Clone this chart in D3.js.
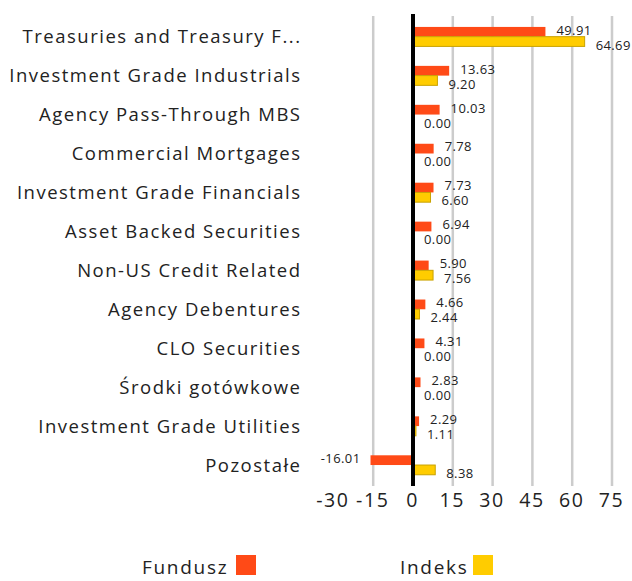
<!DOCTYPE html>
<html><head><meta charset="utf-8">
<script src="https://cdn.jsdelivr.net/npm/d3@7"></script>
<style>
body{margin:0;background:#fff;}
text{font-family:"Open Sans",sans-serif;fill:#222;}
</style></head>
<body><svg id="c" width="632" height="581"></svg>
<script>
const categories = ["Treasuries and Treasury F...","Investment Grade Industrials","Agency Pass-Through MBS","Commercial Mortgages","Investment Grade Financials","Asset Backed Securities","Non-US Credit Related","Agency Debentures","CLO Securities","Środki gotówkowe","Investment Grade Utilities","Pozostałe"];
const fundusz = [49.91,13.63,10.03,7.78,7.73,6.94,5.90,4.66,4.31,2.83,2.29,-16.01];
const indeks = [64.69,9.20,0.00,0.00,6.60,0.00,7.56,2.44,0.00,0.00,1.11,8.38];
const tickValues = [-30,-15,0,15,30,45,60,75];
const seriesNames = ["Fundusz","Indeks"];
const colors = ["#ff4a17","#ffcc00"];
const strokes = ["none","#c9a200"];

const svg = d3.select("#c");
const x = d3.scaleLinear().domain([-30,75]).range([333.4,612]);
const y = d3.scaleBand().domain(categories).range([17.2,484.5]).paddingInner(0.5).paddingOuter(0.25);
const sub = d3.scaleBand().domain([0,1]).range([0,y.bandwidth()]);

// gridlines
svg.append("g").selectAll("line").data(tickValues.filter(t=>t!==-30 && t!==0)).join("line")
  .attr("x1",d=>x(d)).attr("x2",d=>x(d)).attr("y1",16).attr("y2",486)
  .attr("stroke","#cccccc").attr("stroke-width",2.5);

// tick labels via axis
const ax = svg.append("g").attr("transform","translate(0,493)")
  .call(d3.axisBottom(x).tickValues(tickValues).tickSize(0).tickPadding(0).tickFormat(d=>String(d)));
ax.select(".domain").remove();
ax.selectAll("text").attr("font-size",19.5).attr("fill","#222").attr("font-family","Open Sans, sans-serif")
  .attr("letter-spacing","1.6px").attr("dx","-1px").attr("dy","0.71em");

// category labels
svg.append("g").selectAll("text").data(categories).join("text")
  .attr("x",301.5).attr("y",d=>y(d)+y.bandwidth()/2).attr("dy","0.35em")
  .attr("text-anchor","end").attr("font-size",18.5).attr("letter-spacing","1.5px").text(d=>d);

const data = [];
categories.forEach((c,i)=>{data.push({c,s:0,v:fundusz[i]});data.push({c,s:1,v:indeks[i]});});

svg.append("g").selectAll("rect").data(data).join("rect")
  .attr("x",d=>Math.min(x(0),x(d.v))).attr("width",d=>Math.abs(x(d.v)-x(0)))
  .attr("y",d=>y(d.c)+sub(d.s)).attr("height",sub.bandwidth())
  .attr("fill",d=>colors[d.s]).attr("stroke",d=>strokes[d.s]).attr("stroke-width",1);

svg.append("g").selectAll("text").data(data).join("text")
  .attr("x",d=>d.v<0? x(d.v)-10 : x(d.v)+11)
  .attr("text-anchor",d=>d.v<0?"end":"start")
  .attr("y",d=>y(d.c)+y.bandwidth()/2 + (d.s===0?-2:13))
  .attr("font-size",13).attr("letter-spacing","0.4px").text(d=>d.v.toFixed(2));

// zero line
svg.append("line").attr("x1",x(0)).attr("x2",x(0)).attr("y1",14).attr("y2",486)
  .attr("stroke","#000").attr("stroke-width",4);

// legend
const leg = [{n:seriesNames[0],tx:142,sx:236},{n:seriesNames[1],tx:400,sx:473}];
leg.forEach((l,i)=>{
  svg.append("text").attr("x",l.tx).attr("y",574).attr("font-size",19).attr("letter-spacing","1.7px").text(l.n);
  svg.append("rect").attr("x",l.sx).attr("y",555).attr("width",20).attr("height",20).attr("fill",colors[i]);
});
</script></body></html>
